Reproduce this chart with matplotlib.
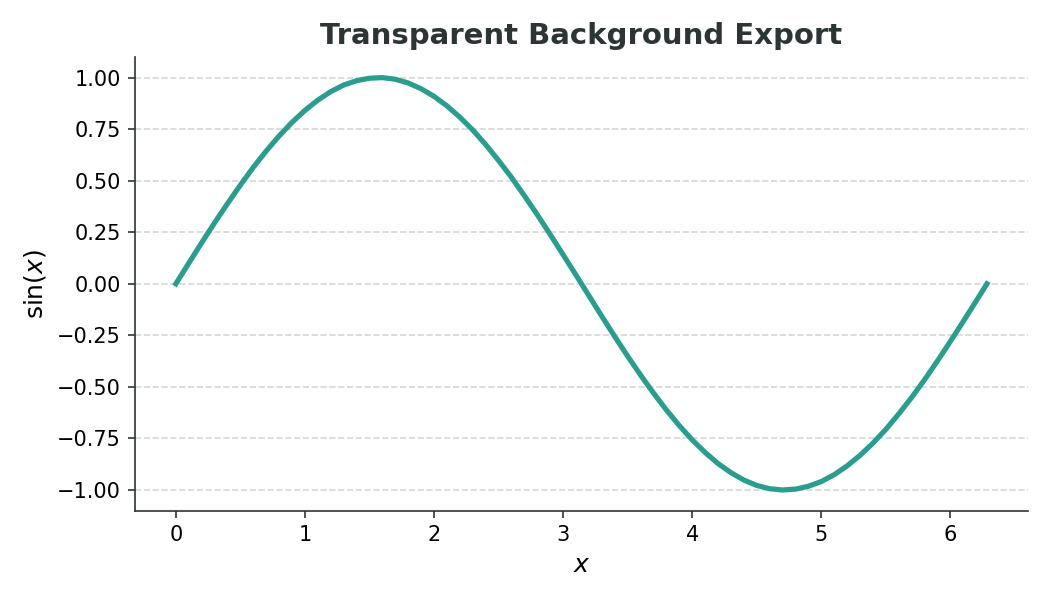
import numpy as np
import matplotlib
matplotlib.use("Agg")
import matplotlib.pyplot as plt

# Valores (x em rad, y = sin(x))
x_vals = [0.0, 0.1, 0.2, 0.3, 0.4, 0.5, 0.6, 0.7, 0.8, 0.9,
          1.0, 1.1, 1.2, 1.3, 1.4, 1.5, 1.6, 1.7, 1.8, 1.9,
          2.0, 2.1, 2.2, 2.3, 2.4, 2.5, 2.6, 2.7, 2.8, 2.9,
          3.0, 3.1, 3.2, 3.3, 3.4, 3.5, 3.6, 3.7, 3.8, 3.9,
          4.0, 4.1, 4.2, 4.3, 4.4, 4.5, 4.6, 4.7, 4.8, 4.9,
          5.0, 5.1, 5.2, 5.3, 5.4, 5.5, 5.6, 5.7, 5.8, 5.9,
          6.0, 6.1, 6.2, 6.283]
y_vals = [0.000, 0.100, 0.199, 0.296, 0.389, 0.479, 0.565, 0.644, 0.717, 0.783,
          0.841, 0.891, 0.932, 0.964, 0.985, 0.997, 1.000, 0.992, 0.974, 0.946,
          0.909, 0.863, 0.808, 0.746, 0.675, 0.598, 0.516, 0.427, 0.335, 0.239,
          0.141, 0.042, -0.058, -0.158, -0.256, -0.351, -0.443, -0.530, -0.612, -0.688,
          -0.757, -0.818, -0.872, -0.916, -0.952, -0.978, -0.994, -1.000, -0.996, -0.982,
          -0.959, -0.926, -0.883, -0.832, -0.773, -0.706, -0.631, -0.551, -0.465, -0.374,
          -0.279, -0.182, -0.083, 0.000]

LINE_COLOR = "#2a9d8f"
DARK = "#2d3436"

fig, ax = plt.subplots(figsize=(7, 4), dpi=150)

ax.plot(x_vals, y_vals, color=LINE_COLOR, linewidth=2.5, solid_joinstyle="round")

ax.set_title("Transparent Background Export", fontsize=14, fontweight="bold", color=DARK)
ax.set_xlabel("$x$", fontsize=12)
ax.set_ylabel(r"sin($x$)", fontsize=12)

ax.yaxis.grid(True, linestyle="--", color="#cccccc", alpha=0.8)
ax.set_axisbelow(True)
for side in ["top", "right"]:
    ax.spines[side].set_visible(False)
for side in ["left", "bottom"]:
    ax.spines[side].set_color(DARK)
ax.tick_params(colors=DARK, labelcolor="black")

plt.tight_layout()
plt.savefig("out.png", dpi=150)
